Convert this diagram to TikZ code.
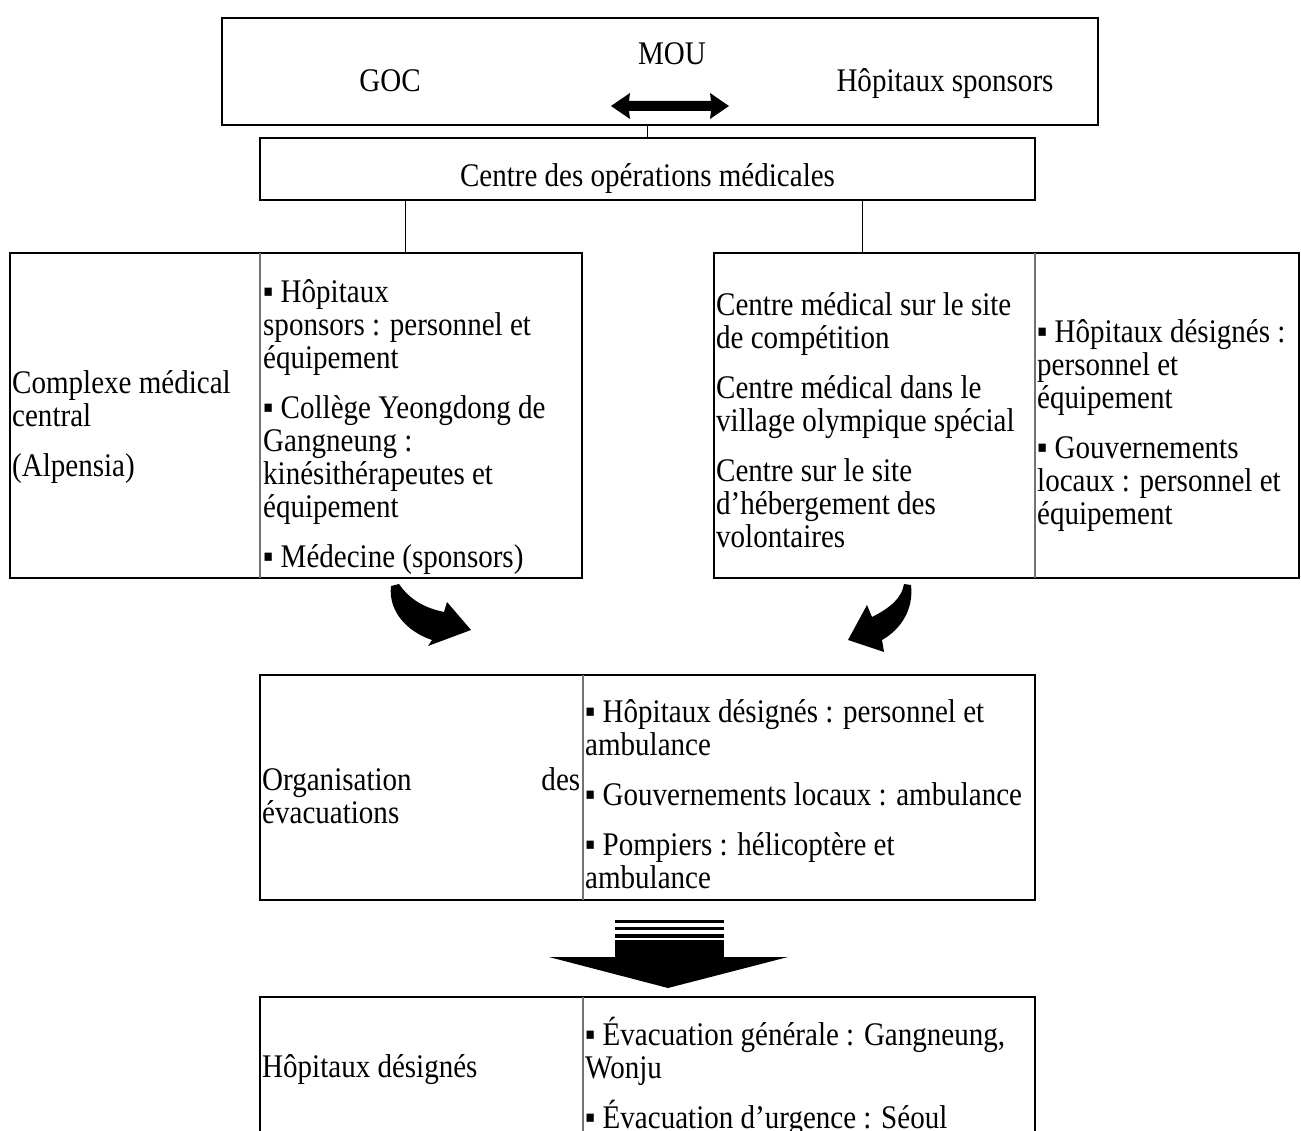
\documentclass[tikz,border=0pt]{standalone}
\usepackage{fontspec}
\setmainfont{Liberation Serif}[FakeStretch=0.88]
\newcommand\firstln{\rule{0pt}{31pt}}
\newcommand\txtfont{\fontsize{33}{33}\selectfont\lineskiplimit=-50pt\relax}
\begin{document}
\begin{tikzpicture}[x=1pt,y=-1pt,
  box/.style={draw, line width=2.6pt, inner sep=0pt},
  divider/.style={draw=black!55, line width=1.5pt},
  conn/.style={draw, line width=0.9pt},
  txt/.style={inner sep=0pt, align=left, anchor=north west, font=\txtfont},
  lbl/.style={inner sep=0pt, anchor=base, font=\txtfont},
  blackshape/.style={fill=black, draw=none}]
\useasboundingbox (0,0) rectangle (1301,1131);

% boxes
\node[box, minimum width=876pt, minimum height=107pt] (top) at (660,71.5) {};
\node[box, minimum width=775pt, minimum height=62pt] (moc) at (647.5,169) {};
\node[box, minimum width=572pt, minimum height=325pt] (lbox) at (296,415.5) {};
\node[box, minimum width=585pt, minimum height=325pt] (rbox) at (1006.5,415.5) {};
\node[box, minimum width=775pt, minimum height=225pt] (evac) at (647.5,787.5) {};
\coordinate (hosp) at (647.5,997);
\draw[line width=2.6pt] (260,1145) |- (1035,997) -- (1035,1145);

% dividers
\draw[divider] (260,253) -- (260,578);
\draw[divider] (1035,253) -- (1035,578);
\draw[divider] (583,675) -- (583,900);
\draw[divider] (583,997) -- (583,1140);

% connectors
\draw[conn] (moc.north) -- (moc.north |- top.south);
\coordinate (cl) at (405,0);
\coordinate (cr) at (862,0);
\draw[conn] (cl |- moc.south) -- (cl |- lbox.north);
\draw[conn] (cr |- moc.south) -- (cr |- rbox.north);

% top box texts
\node[lbl] (goc) at (390,92) {GOC};
\node[lbl] (mou) at (672,65) {MOU};
\node[lbl] (hsp) at (945,92) {Hôpitaux sponsors};
\fill[blackshape] (611,106) -- (630,93) -- (629,101) -- (711,101) -- (710,93) -- (729,106) -- (710,119) -- (711,111) -- (629,111) -- (630,119) -- cycle;

\node[lbl] (moct) at (647.5,187) {Centre des opérations médicales};

% left box
\node[txt] (lc1) at (12,362) {\firstln Complexe médical\\central\\[17pt](Alpensia)};
\node[txt] (lc2) at (263,271) {\firstln ▪ Hôpitaux\\sponsors : personnel et\\équipement\\[17pt]▪ Collège Yeongdong de\\Gangneung :\\kinésithérapeutes et\\équipement\\[17pt]▪ Médecine (sponsors)};

% right box
\node[txt] (rc1) at (716,284) {\firstln Centre médical sur le site\\de compétition\\[17pt]Centre médical dans le\\village olympique spécial\\[17pt]Centre sur le site\\d’hébergement des\\volontaires};
\node[txt] (rc2) at (1037,311) {\firstln ▪ Hôpitaux désignés :\\personnel et\\équipement\\[17pt]▪ Gouvernements\\locaux : personnel et\\équipement};

% curved arrows
\fill[blackshape] (391,586) -- (399,584) .. controls (410,600) and (425,608) .. (444,612) -- (447,602) -- (471,630) -- (428,646) -- (432,640) .. controls (408,632) and (388,612) .. (391,586) -- cycle;
\fill[blackshape] (904,584) -- (911,585) .. controls (914,610) and (900,630) .. (882,640) -- (884,652) -- (848,640) -- (867,605) -- (872,617) .. controls (890,608) and (902,598) .. (904,584) -- cycle;

% evacuation box
\node[txt] (ec1) at (262,759) {\firstln\makebox[318pt][s]{Organisation des}\\évacuations};
\node[txt] (ec2) at (585,691) {\firstln ▪ Hôpitaux désignés : personnel et\\ambulance\\[17pt]▪ Gouvernements locaux : ambulance\\[17pt]▪ Pompiers : hélicoptère et\\ambulance};

% big down arrow
\fill[blackshape] (615,920) rectangle (724,922.5);
\fill[blackshape] (615,926.5) rectangle (724,929.5);
\fill[blackshape] (615,934) rectangle (724,937.5);
\fill[blackshape] (615,940) rectangle (724,958);
\fill[blackshape] (549,957) -- (788,957) -- (668,988) -- cycle;

% bottom box
\node[txt] (hc1) at (262,1046) {\firstln Hôpitaux désignés};
\node[txt] (hc2) at (585,1014) {\firstln ▪ Évacuation générale : Gangneung,\\Wonju\\[17pt]▪ Évacuation d’urgence : Séoul};
\end{tikzpicture}
\end{document}
